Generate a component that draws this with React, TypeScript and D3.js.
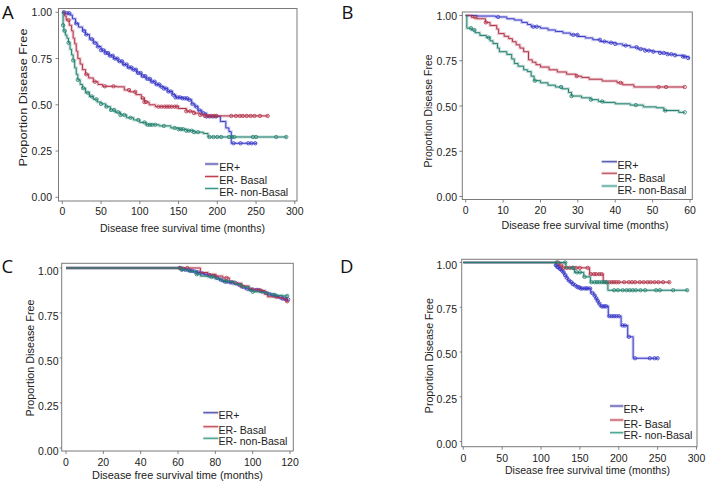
import React from 'react';
import * as d3 from 'd3';

type Step = [number, number];

const seriesNames = ['ER+', 'ER- Basal', 'ER- non-Basal'];
const seriesColors = ['#3a3ac8', '#b3344a', '#23806e'];
const legendColors = ['#4646a8', '#c0404f', '#3a9a88'];

const xTicksA = [0, 50, 100, 150, 200, 250, 300];
const xTicksB = [0, 10, 20, 30, 40, 50, 60];
const xTicksC = [0, 20, 40, 60, 80, 100, 120];
const xTicksD = [0, 50, 100, 150, 200, 250, 300];
const yTicks = [0, 0.25, 0.5, 0.75, 1];
const panelLetters = ['A', 'B', 'C', 'D'];
const xTitle = 'Disease free survival time (months)';
const yTitle = 'Proportion Disease Free';

// Panel A
const aErPos: Step[] = [[0,1],[3,0.995],[10,0.985],[13,0.965],[17,0.94],[21,0.92],[26,0.9],[30,0.88],[35,0.855],[40,0.835],[45,0.815],[50,0.795],[55,0.78],[60,0.765],[66,0.75],[72,0.735],[78,0.718],[84,0.702],[90,0.69],[96,0.672],[102,0.655],[108,0.64],[114,0.625],[120,0.61],[126,0.598],[131,0.588],[136,0.572],[142,0.555],[146,0.54],[155,0.535],[162,0.527],[167,0.505],[171,0.49],[175,0.47],[180,0.455],[186,0.437],[204,0.41],[211,0.375],[215,0.355],[218,0.292],[251,0.292]];
const aBasal: Step[] = [[0,1],[3,0.98],[5,0.958],[9,0.93],[12,0.9],[14,0.86],[16,0.83],[18,0.79],[20,0.75],[23,0.72],[26,0.69],[30,0.665],[34,0.645],[40,0.625],[46,0.61],[52,0.6],[70,0.597],[80,0.58],[87,0.57],[95,0.555],[102,0.535],[106,0.515],[112,0.5],[120,0.49],[150,0.48],[160,0.465],[170,0.455],[178,0.445],[184,0.44],[266,0.44]];
const aNonBasal: Step[] = [[0,1],[1,0.93],[2,0.9],[4,0.877],[6,0.86],[8,0.835],[10,0.8],[12,0.77],[14,0.74],[16,0.7],[18,0.665],[20,0.635],[23,0.61],[26,0.59],[30,0.565],[35,0.545],[40,0.53],[45,0.515],[50,0.505],[56,0.49],[62,0.472],[68,0.46],[75,0.445],[83,0.43],[92,0.418],[100,0.405],[108,0.392],[125,0.386],[140,0.375],[150,0.368],[160,0.36],[170,0.352],[182,0.345],[188,0.326],[290,0.326]];
const aErPosCens = [2,6,9,18,28,31,38,42,46,50,53,56,59,62,65,68,71,74,77,80,83,86,89,92,95,98,101,104,107,110,113,116,119,122,125,128,131,134,137,140,143,146,149,152,155,158,161,164,168,173,177,182,186,190,194,198,221,230,240,244,249];
const aBasalCens = [8,31,42,55,66,86,94,104,106,108,124,128,132,135,138,141,145,148,160,165,170,178,184,188,192,196,199,218,224,229,233,238,243,248,255,265];
const aNonBasalCens = [1,3,8,14,20,27,33,38,44,50,57,63,67,72,75,80,88,98,106,110,113,116,120,131,145,150,153,156,160,163,167,170,175,190,195,200,205,215,219,222,246,250,276,289];

// Panel B
const bErPos: Step[] = [[0,1],[3,0.997],[8,0.992],[11,0.982],[13,0.975],[15,0.962],[16.5,0.95],[17.5,0.938],[20,0.93],[22,0.92],[24,0.912],[26,0.903],[28,0.893],[30,0.884],[32,0.876],[34,0.866],[36,0.856],[38,0.85],[40,0.843],[42,0.834],[44,0.825],[46,0.815],[48,0.806],[50,0.8],[52,0.793],[54,0.786],[56,0.78],[58,0.773],[59.5,0.765],[60,0.765]];
const bBasal: Step[] = [[0,1],[1.5,0.99],[3,0.982],[5.3,0.962],[6.5,0.945],[8.3,0.925],[8.8,0.9],[10.3,0.885],[11.5,0.872],[12.5,0.855],[13.5,0.838],[14.5,0.82],[15.5,0.8],[16.8,0.755],[17.8,0.742],[18.8,0.728],[20,0.715],[22.3,0.7],[24.5,0.688],[27,0.676],[29.5,0.665],[31,0.658],[33,0.648],[36.5,0.638],[40.5,0.628],[42,0.617],[45,0.605],[58.6,0.605]];
const bNonBasal: Step[] = [[0,1],[0.3,0.93],[1.5,0.92],[2.5,0.905],[3.8,0.89],[5.5,0.878],[6.5,0.86],[7.3,0.845],[8.5,0.82],[9,0.8],[11,0.785],[12.3,0.76],[13,0.735],[14,0.72],[15.5,0.7],[16.5,0.69],[17.5,0.665],[18.3,0.64],[20,0.628],[22,0.615],[24,0.605],[25.8,0.595],[27.5,0.575],[28.3,0.555],[31,0.545],[33.5,0.535],[35.5,0.525],[37,0.52],[40,0.512],[44,0.505],[47.5,0.495],[51,0.49],[53,0.475],[57,0.465],[58.6,0.465]];
const bErPosCens = [8.7,18.1,19,28.8,29.9,35.9,37.1,38.9,40,42.8,45.7,46.8,48,49,50.2,52,53,54,55,56,58.1,58.6,59.5];
const bBasalCens = [2.5,5.4,29.7,41.4,51.6,53.6,58.6];
const bNonBasalCens = [1.4,2.3,6.2,18.5,25.5,28.3,33.5,36.5,45.5,53.4,58.6];

// Panel C
const cErPos: Step[] = [[0,1],[62,0.995],[64,0.99],[66,0.985],[68,0.98],[70,0.975],[72,0.97],[74,0.965],[76,0.96],[78,0.955],[80,0.945],[82,0.935],[84,0.925],[87,0.92],[90,0.915],[92,0.905],[94,0.895],[96,0.885],[98,0.88],[101,0.878],[104,0.87],[106,0.862],[108,0.855],[110,0.848],[112,0.842],[114,0.836],[116,0.83],[117.5,0.825],[119,0.825]];
const cBasal: Step[] = [[0,1],[72,0.975],[76,0.965],[80,0.955],[84,0.945],[87.5,0.925],[90,0.915],[94,0.9],[98,0.885],[100,0.88],[104,0.875],[106.5,0.855],[108,0.84],[112,0.835],[116,0.83],[118,0.815],[119,0.815]];
const cNonBasal: Step[] = [[0,1],[62,0.99],[66,0.98],[70,0.965],[72,0.955],[76,0.95],[80,0.94],[83,0.93],[86,0.925],[90,0.91],[94,0.895],[98,0.875],[100,0.868],[104,0.865],[108,0.855],[112,0.848],[116,0.845],[119,0.845]];
const cErPosCens = [61,62,63,64,65.5,66.5,67.5,69,70,71,73,75,77,79,81,83,85,86,88,89,91,93,95,97,99,100,102,103,105,107,109,111,113,115,116,117,118,119];
const cBasalCens = [61,65,80,86,94,104,118.5];
const cNonBasalCens = [62,70,78,86,100,112,118.5];

// Panel D
const dErPos: Step[] = [[0,1],[119,0.985],[121,0.975],[123.5,0.965],[126,0.955],[128,0.945],[130,0.93],[132.5,0.915],[134.5,0.9],[137,0.89],[140,0.88],[143,0.872],[146,0.862],[150,0.855],[164,0.83],[168,0.815],[170,0.8],[172,0.785],[174,0.77],[176,0.755],[186.5,0.7],[203,0.648],[211.5,0.585],[218.5,0.465],[251,0.465]];
const dBasal: Step[] = [[0,1],[124,0.985],[127,0.97],[162.5,0.935],[180,0.89],[266,0.89]];
const dNonBasal: Step[] = [[0,1],[132,0.97],[143,0.945],[155,0.92],[163.5,0.89],[186,0.845],[289,0.845]];
const dErPosCens = [119,120,121,122,124,125,127,129,131,133,136,139,141,144,147,149,151,153,156,158,160,163,166,169,171,173,175,178,180,182,184,188,191,194,197,200,205,208,213,221,240,246,250];
const dBasalCens = [122,126,129,133,137,141,145,150,160,164,168,171,175,178,184,188,191,194,197,200,207,213,217,221,227,232,237,241,246,251,257,265];
const dNonBasalCens = [120,131,141,146,150,156,165,169,172,175,178,181,184,194,199,205,210,214,218,222,228,234,248,253,270,288];

const panelXTicks = [xTicksA, xTicksB, xTicksC, xTicksD];
const panelXMax = [300, 60, 120, 300];
const panelSeries: Step[][][] = [
  [aErPos, aBasal, aNonBasal],
  [bErPos, bBasal, bNonBasal],
  [cErPos, cBasal, cNonBasal],
  [dErPos, dBasal, dNonBasal],
];
const panelCensors: number[][][] = [
  [aErPosCens, aBasalCens, aNonBasalCens],
  [bErPosCens, bBasalCens, bNonBasalCens],
  [cErPosCens, cBasalCens, cNonBasalCens],
  [dErPosCens, dBasalCens, dNonBasalCens],
];

interface Layout {
  letter: [number, number];
  frame: [number, number, number, number];
  xRange: [number, number];
  yRange: [number, number];
  yLabelX: number;
  yLabelDy: number;
  tickLen: number;
  xLabelY: number;
  xTitle: [number, number, number];
  yTitle: [number, number, number];
  legend: { x0: number; x1: number; tx: number; lineY: number[]; textY: number[] };
}

const layouts: Layout[] = [
  {
    letter: [2, 18.5], frame: [58.5, 8.5, 297, 201], xRange: [62.3, 294.8], yRange: [197.3, 12.3],
    yLabelX: 52, yLabelDy: 0.5, tickLen: 3, xLabelY: 211.5, xTitle: [182.5, 228.5, 165], yTitle: [23, 97.5, 138],
    legend: { x0: 205, x1: 218.3, tx: 219.3, lineY: [164, 176.5, 188.5], textY: [167, 180, 192] },
  },
  {
    letter: [341.5, 18.5], frame: [462.3, 12, 692.3, 199.5], xRange: [465.7, 690], yRange: [196.5, 15.5],
    yLabelX: 457, yLabelDy: 1, tickLen: 3, xLabelY: 210.5, xTitle: [585, 225, 167], yTitle: [428, 111, 113],
    legend: { x0: 601.7, x1: 617, tx: 617.5, lineY: [161.7, 173.3, 186], textY: [165, 178.5, 190] },
  },
  {
    letter: [1.5, 273.3], frame: [61.7, 263.3, 293.3, 451], xRange: [66, 290], yRange: [448, 268],
    yLabelX: 58.5, yLabelDy: 3, tickLen: 2, xLabelY: 462.5, xTitle: [177.5, 475, 171], yTitle: [30, 358, 117],
    legend: { x0: 203.3, x1: 218.3, tx: 218.5, lineY: [412.7, 426.7, 438.3], textY: [415.5, 430.5, 441.7] },
  },
  {
    letter: [340, 273.3], frame: [461.7, 259.3, 697, 446.7], xRange: [463.3, 696.5], yRange: [441.5, 262.5],
    yLabelX: 457, yLabelDy: 2.5, tickLen: 2, xLabelY: 458, xTitle: [587.5, 470.5, 165], yTitle: [429, 355.7, 115],
    legend: { x0: 610, x1: 623.3, tx: 623.5, lineY: [406, 420, 432.7], textY: [409.3, 424, 435.7] },
  },
];

const FONT = "'Liberation Sans', Arial, Helvetica, sans-serif";

function survAt(steps: Step[], t: number): number {
  let v = steps[0][1];
  for (const [tt, vv] of steps) {
    if (tt <= t) v = vv;
    else break;
  }
  return v;
}

function Panel({ idx }: { idx: number }) {
  const L = layouts[idx];
  const x = d3.scaleLinear().domain([0, panelXMax[idx]]).range(L.xRange);
  const y = d3.scaleLinear().domain([0, 1]).range(L.yRange);
  const line = d3
    .line<Step>()
    .x((d) => x(d[0]))
    .y((d) => y(d[1]))
    .curve(d3.curveStepAfter);
  const fmt = d3.format('.2f');
  const [fx0, fy0, fx1, fy1] = L.frame;
  return (
    <g>
      <text x={L.letter[0]} y={L.letter[1]} fontFamily="'Open Sans', 'Noto Sans', sans-serif" fontSize={18.5} fill="#111">
        {panelLetters[idx]}
      </text>
      <rect x={fx0} y={fy0} width={fx1 - fx0} height={fy1 - fy0} fill="#fff" stroke="#7a7a7a" strokeWidth={1} />
      {yTicks.map((t) => (
        <g key={'y' + t}>
          <line x1={fx0 - L.tickLen} x2={fx0} y1={y(t)} y2={y(t)} stroke="#666" strokeWidth={0.8} />
          <text x={L.yLabelX} y={y(t) + L.yLabelDy} dy="0.35em" textAnchor="end" fontFamily={FONT} fontSize={10.5} fill="#222">
            {fmt(t)}
          </text>
        </g>
      ))}
      {panelXTicks[idx].map((t) => (
        <g key={'x' + t}>
          <line x1={x(t)} x2={x(t)} y1={fy1} y2={fy1 + 3} stroke="#666" strokeWidth={0.8} />
          <text x={x(t)} y={L.xLabelY} dy="0.35em" textAnchor="middle" fontFamily={FONT} fontSize={10.5} fill="#222">
            {t}
          </text>
        </g>
      ))}
      <text
        x={L.xTitle[0]}
        y={L.xTitle[1]}
        dy="0.35em"
        textAnchor="middle"
        fontFamily={FONT}
        fontSize={10.8}
        textLength={L.xTitle[2]}
        lengthAdjust="spacingAndGlyphs"
        fill="#222"
      >
        {xTitle}
      </text>
      <text
        transform={`translate(${L.yTitle[0]},${L.yTitle[1]}) rotate(-90)`}
        dy="0.35em"
        textAnchor="middle"
        fontFamily={FONT}
        fontSize={10.8}
        textLength={L.yTitle[2]}
        lengthAdjust="spacingAndGlyphs"
        fill="#222"
      >
        {yTitle}
      </text>
      {panelSeries[idx].map((s, i) => (
        <g key={'s' + i}>
          <path d={line(s) || ''} fill="none" stroke={seriesColors[i]} strokeOpacity={0.25} strokeWidth={3} />
          <path d={line(s) || ''} fill="none" stroke={seriesColors[i]} strokeWidth={1} />
          {panelCensors[idx][i].map((c, k) => (
            <circle key={k} cx={x(c)} cy={y(survAt(s, c))} r={1.7} fill="none" stroke={seriesColors[i]} strokeWidth={0.8} />
          ))}
        </g>
      ))}
      {seriesNames.map((n, i) => (
        <g key={'l' + i}>
          <line x1={L.legend.x0} x2={L.legend.x1} y1={L.legend.lineY[i]} y2={L.legend.lineY[i]} stroke={legendColors[i]} strokeOpacity={0.3} strokeWidth={3} />
          <line x1={L.legend.x0} x2={L.legend.x1} y1={L.legend.lineY[i]} y2={L.legend.lineY[i]} stroke={legendColors[i]} strokeWidth={1} />
          <text x={L.legend.tx} y={L.legend.textY[i]} dy="0.35em" fontFamily={FONT} fontSize={10.6} fill="#222">
            {n}
          </text>
        </g>
      ))}
    </g>
  );
}

export default function App() {
  return (
    <svg width={710} height={485} viewBox="0 0 710 485" style={{ display: 'block', position: 'absolute', left: 0, top: 0, background: '#fff' }}>
      <rect x={0} y={0} width={710} height={485} fill="#fff" />
      {[0, 1, 2, 3].map((i) => (
        <Panel key={i} idx={i} />
      ))}
    </svg>
  );
}
